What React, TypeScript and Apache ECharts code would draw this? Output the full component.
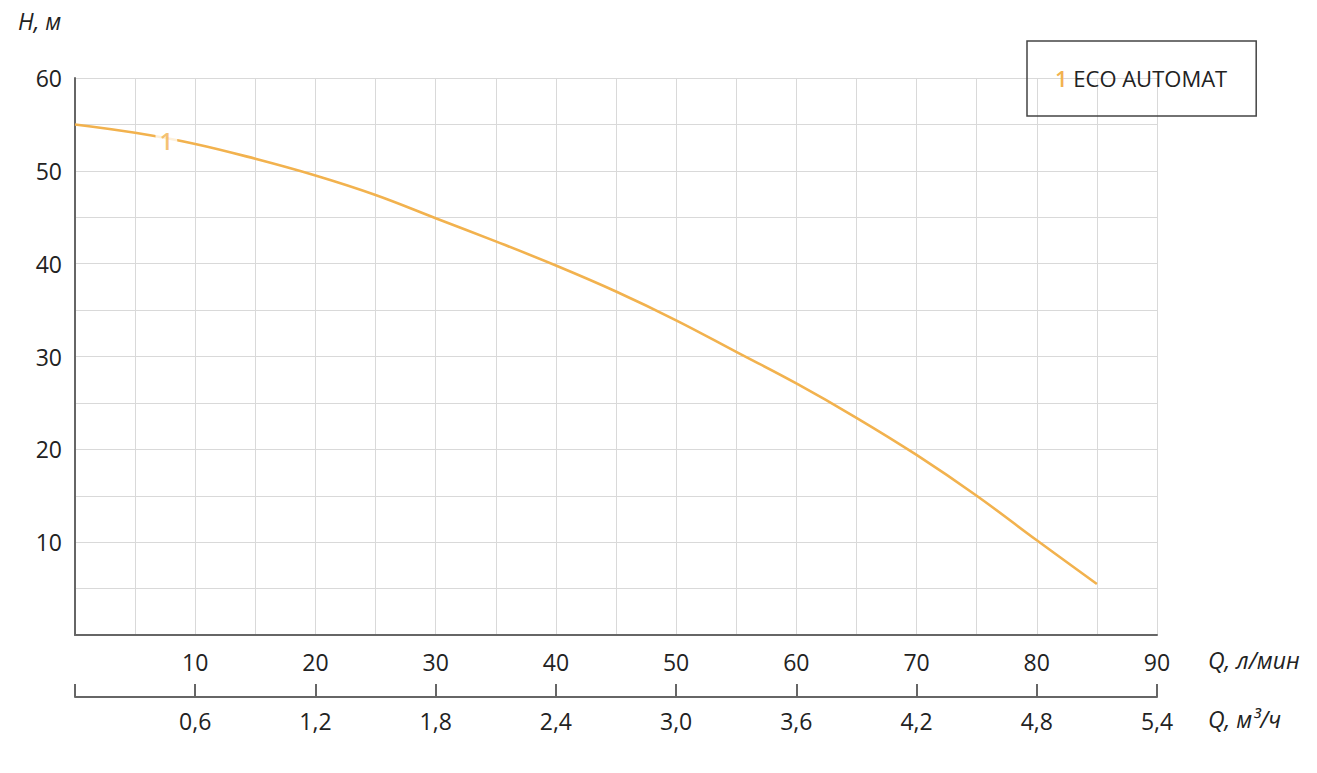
import React, { useEffect, useRef } from "react";
import * as echarts from "echarts";

const flowLmin = [0, 5, 10, 15, 20, 25, 30, 35, 40, 45, 50, 55, 60, 65, 70, 75, 80, 85];
const headM = [55, 54.1, 52.9, 51.3, 49.5, 47.4, 44.9, 42.4, 39.8, 37.0, 33.9, 30.5, 27.1, 23.4, 19.4, 15.0, 10.2, 5.5];
const seriesName = "ECO AUTOMAT";
const curveLabel = "1";
const curveLabelPos = [7.6, 53.3];
const yAxisTitle = "H, м";
const xAxisTitle1 = "Q, л/мин";
const xAxisTitle2 = "Q, м³/ч";

const ORANGE = "#F2B24E";
const FONT = "'Open Sans', 'Noto Sans', sans-serif";
const FS = 23;

export default function App() {
  const ref = useRef<HTMLDivElement>(null);
  useEffect(() => {
    if (!ref.current) return;
    const chart = echarts.init(ref.current, undefined, { renderer: "svg" });
    const data = flowLmin.map((x, i) => [x, headM[i]]);
    chart.setOption({
      animation: false,
      backgroundColor: "#fff",
      textStyle: { fontFamily: FONT },
      grid: [
        { left: 75, right: 160, top: 78, bottom: 138, containLabel: false },
        { left: 75, right: 160, top: 696, height: 1, containLabel: false },
      ],
      legend: {
        left: 1027,
        top: 41,
        data: [seriesName],
        icon: "none",
        itemWidth: 0,
        itemHeight: 0,
        padding: [26, 29, 27, 23],
        borderColor: "#444",
        borderWidth: 1.5,
        borderRadius: 0,
        formatter: (name: string) => `{n|${curveLabel}} ${name}`,
        textStyle: {
          fontSize: 22,
          color: "#222",
          fontFamily: FONT,
          rich: { n: { color: ORANGE, fontSize: 22, fontFamily: FONT, fontWeight: 600 } },
        },
      },
      xAxis: [
        {
          type: "value",
          gridIndex: 0,
          min: 0,
          max: 90,
          interval: 5,
          axisLine: { show: true, onZero: false, lineStyle: { color: "#666", width: 2 } },
          axisTick: { show: false },
          splitLine: { show: true, lineStyle: { color: "#d9d9d9", width: 1 } },
          axisLabel: {
            margin: 15,
            fontSize: FS,
            color: "#222",
            fontFamily: FONT,
            formatter: (v: number) => (v > 0 && v % 10 === 0 ? String(v) : ""),
          },
        },
        {
          type: "value",
          gridIndex: 1,
          position: "bottom",
          min: 0,
          max: 5.4,
          interval: 0.6,
          axisLine: { show: true, onZero: false, lineStyle: { color: "#666", width: 2 } },
          axisTick: { show: true, inside: true, length: 13, lineStyle: { color: "#666", width: 2 } },
          splitLine: { show: false },
          axisLabel: {
            margin: 12,
            fontSize: FS,
            color: "#222",
            fontFamily: FONT,
            formatter: (v: number) => (v > 0.01 ? v.toFixed(1).replace(".", ",") : ""),
          },
        },
      ],
      yAxis: [
        {
          type: "value",
          gridIndex: 0,
          min: 0,
          max: 60,
          interval: 5,
          axisLine: { show: true, onZero: false, lineStyle: { color: "#666", width: 2 } },
          axisTick: { show: false },
          splitLine: { show: true, lineStyle: { color: "#d9d9d9", width: 1 } },
          axisLabel: {
            margin: 13,
            fontSize: FS,
            color: "#222",
            fontFamily: FONT,
            formatter: (v: number) => (v > 0 && v % 10 === 0 ? String(v) : ""),
          },
        },
        {
          type: "value",
          gridIndex: 1,
          show: false,
          min: 0,
          max: 1,
        },
      ],
      series: [
        {
          name: seriesName,
          type: "line",
          xAxisIndex: 0,
          yAxisIndex: 0,
          data,
          smooth: 0.4,
          showSymbol: false,
          symbol: "none",
          lineStyle: { color: ORANGE, width: 2.6 },
          itemStyle: { color: ORANGE },
          z: 3,
        },
        {
          name: "label",
          type: "scatter",
          xAxisIndex: 0,
          yAxisIndex: 0,
          data: [curveLabelPos],
          symbolSize: 1,
          itemStyle: { color: "rgba(0,0,0,0)" },
          label: {
            show: true,
            position: "inside",
            formatter: curveLabel,
            color: ORANGE,
            fontSize: 24,
            fontWeight: 600,
            fontFamily: FONT,
            backgroundColor: "#fff",
            padding: [0, 4, 0, 4],
          },
          z: 5,
        },
      ],
      graphic: [
        {
          type: "text",
          left: 18,
          top: 9,
          style: { text: yAxisTitle, fontSize: FS, fontStyle: "italic", fill: "#222", fontFamily: FONT },
        },
        {
          type: "text",
          left: 1208,
          top: 648,
          style: { text: xAxisTitle1, fontSize: FS, fontStyle: "italic", fill: "#222", fontFamily: FONT },
        },
        {
          type: "text",
          left: 1208,
          top: 707,
          style: { text: xAxisTitle2, fontSize: FS, fontStyle: "italic", fill: "#222", fontFamily: FONT },
        },
      ],
    });
    return () => chart.dispose();
  }, []);
  return <div ref={ref} style={{ width: 1317, height: 773, position: "absolute", left: 0, top: 0 }} />;
}
